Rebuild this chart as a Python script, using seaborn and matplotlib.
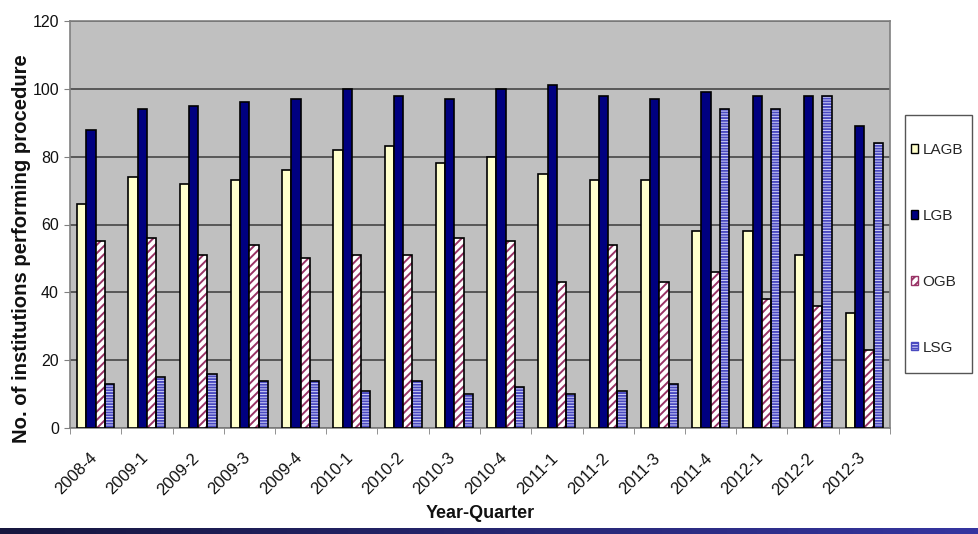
import numpy as np
import pandas as pd
import matplotlib
matplotlib.use("Agg")
import matplotlib.pyplot as plt
import seaborn as sns
from matplotlib.patches import Rectangle, Patch
from matplotlib.colors import LinearSegmentedColormap
from matplotlib.transforms import ScaledTranslation

# ---------------- data ----------------
quarters = ["2008-4", "2009-1", "2009-2", "2009-3", "2009-4", "2010-1", "2010-2", "2010-3",
            "2010-4", "2011-1", "2011-2", "2011-3", "2011-4", "2012-1", "2012-2", "2012-3"]
series = ["LAGB", "LGB", "OGB", "LSG"]
lagb = [66, 74, 72, 73, 76, 82, 83, 78, 80, 75, 73, 73, 58, 58, 51, 34]
lgb = [88, 94, 95, 96, 97, 100, 98, 97, 100, 101, 98, 97, 99, 98, 98, 89]
ogb = [55, 56, 51, 54, 50, 51, 51, 56, 55, 43, 54, 43, 46, 38, 36, 23]
lsg = [13, 15, 16, 14, 14, 11, 14, 10, 12, 10, 11, 13, 94, 94, 98, 84]
y_ticks = [0, 20, 40, 60, 80, 100, 120]

# ---------------- style ----------------
sns.set_style("white")
plt.rcParams["font.family"] = ["Liberation Sans", "DejaVu Sans"]
plt.rcParams["hatch.linewidth"] = 1.4

face = {"LAGB": "#ffffcc", "LGB": "#000080", "OGB": "#ffffff", "LSG": "#e4e4ff"}
hatch = {"LAGB": None, "LGB": None, "OGB": "////", "LSG": "------"}
hcol = {"OGB": "#993366", "LSG": "#4a4ac0"}

df = pd.DataFrame({
    "Quarter": quarters * len(series),
    "Series": np.repeat(series, len(quarters)),
    "Count": lagb + lgb + ogb + lsg,
})

fig = plt.figure(figsize=(9.79, 5.34), dpi=100)
ax = fig.add_axes([70 / 979, 106 / 534, 820 / 979, 407 / 534])

sns.barplot(data=df, x="Quarter", y="Count", hue="Series", hue_order=series,
            order=quarters, palette=face, width=0.72, gap=0, saturation=1,
            edgecolor="black", linewidth=1.2, legend=False, ax=ax, zorder=3)

for cont, s in zip(ax.containers, series):
    if hatch[s]:
        for p in cont:
            p.set_hatch(hatch[s])
            p.set_edgecolor(hcol[s])
            p.set_linewidth(0)
            ax.add_patch(Rectangle((p.get_x(), p.get_y()), p.get_width(), p.get_height(),
                                   fill=False, edgecolor="black", lw=1.2, zorder=4))

ax.set_facecolor("#c0c0c0")
ax.set_axisbelow(True)
ax.yaxis.grid(True, color="#3c3c3c", lw=1.1)
ax.xaxis.grid(False)
ax.set_ylim(0, 120)
ax.set_xlim(-0.5, len(quarters) - 0.5)
ax.set_yticks(y_ticks)
ax.set_yticklabels([str(v) for v in y_ticks])

for sp in ax.spines.values():
    sp.set_visible(True)
    sp.set_color("#808080")
    sp.set_linewidth(1.2)

ax.tick_params(axis="y", left=True, length=4, color="#808080", labelsize=11.5, pad=4,
               labelcolor="#111111")
ax.set_xticks(range(len(quarters)))
ax.set_xticklabels(quarters, rotation=45, ha="right")
ax.tick_params(axis="x", which="major", bottom=False, length=0, labelsize=12, pad=16,
               labelcolor="#111111")
shift = ScaledTranslation(4 / 100, 0, fig.dpi_scale_trans)
for lbl in ax.get_xticklabels():
    lbl.set_transform(lbl.get_transform() + shift)
ax.set_xticks(np.arange(-0.5, len(quarters), 1), minor=True)
ax.tick_params(axis="x", which="minor", bottom=True, length=4, color="#808080")

ax.set_ylabel("No. of institutions performing procedure", fontsize=14.6, fontweight="bold",
              color="#111111")
ax.yaxis.set_label_coords(-0.047, 0.44)
ax.set_xlabel("Year-Quarter", fontsize=13, fontweight="bold", color="#111111",
              family=["Liberation Sans Narrow", "Liberation Sans", "DejaVu Sans"])
ax.xaxis.set_label_coords(0.5, -0.19)

# legend box
fig.patches.append(Rectangle((905 / 979, 1 - 373 / 534), 67 / 979, 258 / 534,
                             transform=fig.transFigure, facecolor="white",
                             edgecolor="#555555", lw=1, zorder=1))
handles = []
for s in series:
    handles.append(Patch(facecolor=face[s], edgecolor="black" if not hatch[s] else hcol[s],
                         hatch=hatch[s], label=s))
fig.legend(handles=handles, loc="upper left", bbox_to_anchor=(911 / 979, 1 - 143 / 534),
           frameon=False, fontsize=11, handlelength=0.45, handleheight=0.45,
           handletextpad=0.3, labelspacing=3.4, borderpad=0, borderaxespad=0)

# bottom gradient strip
strip = fig.add_axes([0, 0, 1, 6 / 534])
cmap = LinearSegmentedColormap.from_list("strip", ["#16163e", "#3535a0"])
strip.imshow(np.linspace(0, 1, 256).reshape(1, -1), aspect="auto", cmap=cmap)
strip.axis("off")

fig.savefig("out.png", dpi=100)
